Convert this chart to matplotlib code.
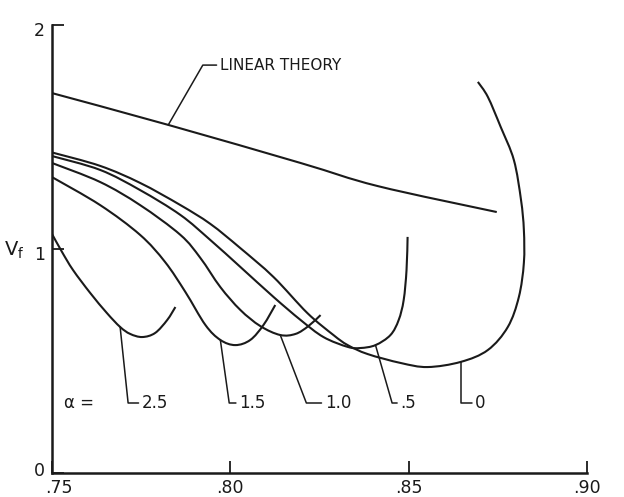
import matplotlib
matplotlib.use("Agg")
import matplotlib.pyplot as plt
import matplotlib.transforms as mtrans
from matplotlib.path import Path
from matplotlib.patches import PathPatch

# ---- data (Mach number vs flutter velocity) ----
mach_linear = [0.7500, 0.7826, 0.8197, 0.8413, 0.8747]
vf_linear = [1.696, 1.554, 1.384, 1.281, 1.165]

mach_a0 = [0.7500, 0.7635, 0.7747, 0.7860, 0.7944, 0.8028, 0.8121, 0.8216, 0.8289,
           0.8329, 0.8385, 0.8478, 0.8553, 0.8646, 0.8722, 0.8778, 0.8809, 0.8823,
           0.8823, 0.8815, 0.8795, 0.8758, 0.8722, 0.8694]
vf_a0 = [1.431, 1.371, 1.295, 1.196, 1.112, 1.004, 0.875, 0.714, 0.616,
         0.571, 0.531, 0.491, 0.473, 0.496, 0.549, 0.652, 0.786, 0.938,
         1.085, 1.219, 1.397, 1.545, 1.679, 1.746]

mach_a05 = [0.7500, 0.7635, 0.7747, 0.7860, 0.7944, 0.8028, 0.8121, 0.8197, 0.8261,
            0.8329, 0.8365, 0.8407, 0.8449, 0.8472, 0.8486, 0.8494, 0.8497]
vf_a05 = [1.415, 1.353, 1.263, 1.152, 1.040, 0.920, 0.786, 0.683, 0.607,
          0.563, 0.558, 0.571, 0.616, 0.683, 0.772, 0.906, 1.054]

mach_a10 = [0.7500, 0.7635, 0.7747, 0.7860, 0.7916, 0.7972, 0.8028, 0.8084, 0.8140,
            0.8183, 0.8219, 0.8253]
vf_a10 = [1.384, 1.299, 1.196, 1.063, 0.960, 0.830, 0.728, 0.656, 0.616,
          0.621, 0.656, 0.705]

mach_a15 = [0.7500, 0.7635, 0.7747, 0.7817, 0.7874, 0.7930, 0.7972, 0.8014, 0.8056,
            0.8093, 0.8126]
vf_a15 = [1.321, 1.196, 1.063, 0.942, 0.808, 0.661, 0.594, 0.571, 0.594,
          0.661, 0.750]

mach_a25 = [0.7500, 0.7528, 0.7559, 0.7607, 0.7654, 0.7691, 0.7719, 0.7753, 0.7789,
            0.7823, 0.7846]
vf_a25 = [1.067, 0.987, 0.906, 0.804, 0.714, 0.652, 0.621, 0.607, 0.625,
          0.683, 0.741]

alpha_labels = ["2.5", "1.5", "1.0", ".5", "0"]
x_ticks = [0.75, 0.80, 0.85, 0.90]
x_tick_labels = [".75", ".80", ".85", ".90"]
y_ticks = [0, 1, 2]
y_tick_labels = ["0", "1", "2"]

# ---- figure ----
ink = "#1a1a1a"
fig = plt.figure(figsize=(6.24, 4.97), dpi=100)
ax = fig.add_axes([52 / 624, 1 - 473 / 497, (587 - 52) / 624, (473 - 25) / 497])
ax.set_xlim(0.75, 0.90)
ax.set_ylim(0, 2)


def smooth_curve(xs, ys, **kw):
    """Draw a smooth (Catmull-Rom as cubic Bezier) line through the read points."""
    pts = list(zip(xs, ys))
    n = len(pts)
    verts = [pts[0]]
    codes = [Path.MOVETO]
    for i in range(n - 1):
        p0 = pts[i - 1] if i > 0 else pts[i]
        p1 = pts[i]
        p2 = pts[i + 1]
        p3 = pts[i + 2] if i + 2 < n else pts[i + 1]
        c1 = (p1[0] + (p2[0] - p0[0]) / 6, p1[1] + (p2[1] - p0[1]) / 6)
        c2 = (p2[0] - (p3[0] - p1[0]) / 6, p2[1] - (p3[1] - p1[1]) / 6)
        verts += [c1, c2, p2]
        codes += [Path.CURVE4] * 3
    ax.add_patch(PathPatch(Path(verts, codes), fill=False, **kw))


curves = [(mach_a25, vf_a25), (mach_a15, vf_a15), (mach_a10, vf_a10),
          (mach_a05, vf_a05), (mach_a0, vf_a0)]
lw = 1.5
smooth_curve(mach_linear, vf_linear, ec=ink, lw=lw, capstyle="butt")
for mx, vy in curves:
    smooth_curve(mx, vy, ec=ink, lw=lw, capstyle="butt")

ax.set_xticks(x_ticks)
ax.set_xticklabels(x_tick_labels)
ax.set_yticks(y_ticks)
ax.set_yticklabels(y_tick_labels)
ax.tick_params(direction="in", length=8.5, width=1.3, colors=ink, labelsize=12.5,
               pad=5)
ax.tick_params(axis="x", pad=4)
for s in ["top", "right"]:
    ax.spines[s].set_visible(False)
for s in ["left", "bottom"]:
    ax.spines[s].set_linewidth(1.8)
    ax.spines[s].set_color(ink)

# small label nudges as in the reference
xl = ax.get_xticklabels()
xl[0].set_transform(xl[0].get_transform() +
                    mtrans.ScaledTranslation(5 / 72, 0, fig.dpi_scale_trans))
yl = ax.get_yticklabels()
yl[0].set_transform(yl[0].get_transform() +
                    mtrans.ScaledTranslation(0, 3 / 72, fig.dpi_scale_trans))
yl[1].set_transform(yl[1].get_transform() +
                    mtrans.ScaledTranslation(0, -3 / 72, fig.dpi_scale_trans))
yl[2].set_transform(yl[2].get_transform() +
                    mtrans.ScaledTranslation(0, -3 / 72, fig.dpi_scale_trans))

# ---- leaders / labels ----
attach_idx = [5, 6, 8, 11, 13]          # which read point each leader touches
label_pos = [(0.7752, 0.3125), (0.8025, 0.3125), (0.8265, 0.3125),
             (0.8477, 0.3125), (0.8686, 0.3125)]
leader_angle = [-84, -82, -69, -74, -90]
box = dict(boxstyle="square,pad=0.2", fc="none", ec="none")
for (mx, vy), lab, idx, pos, ang in zip(curves, alpha_labels, attach_idx,
                                        label_pos, leader_angle):
    ax.annotate(lab, xy=(mx[idx], vy[idx]), xytext=pos, ha="left", va="center",
                fontsize=12, color=ink, bbox=box,
                arrowprops=dict(arrowstyle="-", color=ink, lw=1.1,
                                shrinkA=0, shrinkB=0,
                                connectionstyle=f"angle,angleA=0,angleB={ang},rad=0"))

ax.annotate("LINEAR THEORY", xy=(mach_linear[1], vf_linear[1]),
            xytext=(0.7970, 1.821), ha="left", va="center", fontsize=11,
            color=ink, bbox=box,
            arrowprops=dict(arrowstyle="-", color=ink, lw=1.1, shrinkA=0, shrinkB=0,
                            connectionstyle="angle,angleA=0,angleB=60,rad=0"))

ax.text(0.7535, 0.3125, "α =", ha="left", va="center", fontsize=12, color=ink)
ax.text(-0.071, 0.498, r"$\mathregular{V_f}$", transform=ax.transAxes,
        ha="center", va="center", fontsize=14, color=ink)

fig.savefig("out.png", dpi=100)
